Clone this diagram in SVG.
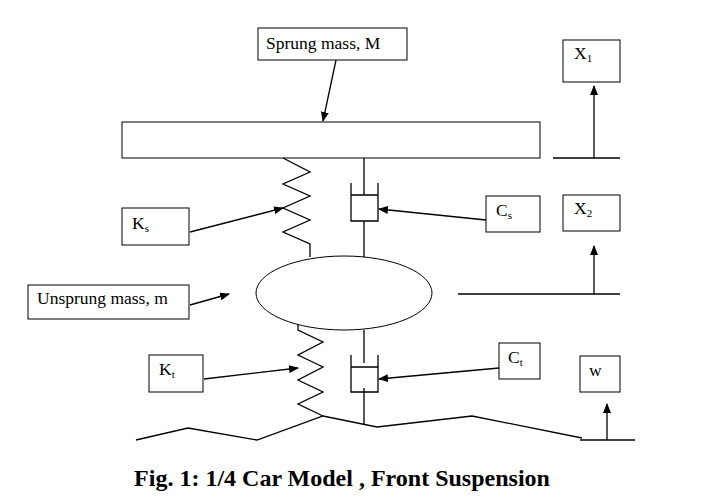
<svg xmlns="http://www.w3.org/2000/svg" width="704" height="503" viewBox="0 0 704 503">
<style>
.s{fill:none;stroke:#000;stroke-width:1.3}
.b{fill:#fff;stroke:#000;stroke-width:1}
.t{font-family:"Liberation Serif",serif;font-size:17.5px}
.sub{font-size:11px}
</style>
<defs><marker id="a" markerWidth="10" markerHeight="8" refX="9" refY="4" orient="auto" markerUnits="userSpaceOnUse"><path d="M0,0L10,4L0,8z"/></marker></defs>
<rect width="704" height="503" fill="#fff"/>
<g id="sprung"><rect class="b" x="122" y="122" width="418" height="36"/></g>
<g id="unsprung"><ellipse class="b" cx="344" cy="293" rx="88" ry="37"/></g>
<g id="springs">
<polyline class="s" points="283,158 310,172 283,184 310,196 283,208 310,220 283,232 310,244 310,257"/>
<polyline class="s" points="298,325 298,330 323,342 298,355 323,367 298,380 323,392 298,404 323,416"/>
</g>
<g id="dampers">
<path class="s" d="M364,158V195M351,183V221H378V183M351,195H378M364,221V257"/>
<path class="s" d="M364,330V363M351,355V392H378V355M351,367H378M364,388V425"/>
</g>
<g id="ground"><polyline class="s" points="136,440 188,428 257,440 323,416 377,427 472,416 582,438"/></g>
<g id="labels">
<g id="n-sprung"><rect class="b" x="258" y="28" width="149" height="32"/><text class="t" x="266" y="49">Sprung mass, M</text></g>
<g id="n-ks"><rect class="b" x="122" y="208" width="67" height="37"/><text class="t" x="132" y="229">K<tspan class="sub" dy="3">s</tspan></text></g>
<g id="n-un"><rect class="b" x="28" y="285" width="161" height="34"/><text class="t" x="37" y="304">Unsprung mass, m</text></g>
<g id="n-kt"><rect class="b" x="149" y="355" width="54" height="37"/><text class="t" x="159" y="375">K<tspan class="sub" dy="3">t</tspan></text></g>
<g id="n-cs"><rect class="b" x="486" y="196" width="54" height="36"/><text class="t" x="496" y="216">C<tspan class="sub" dy="3">s</tspan></text></g>
<g id="n-ct"><rect class="b" x="499" y="343" width="41" height="36"/><text class="t" x="508" y="363">C<tspan class="sub" dy="3">t</tspan></text></g>
<g id="n-x1"><rect class="b" x="563" y="40" width="57" height="42"/><text class="t" x="574" y="59">X<tspan class="sub" dy="3">1</tspan></text></g>
<g id="n-x2"><rect class="b" x="563" y="195" width="57" height="36"/><text class="t" x="574" y="214">X<tspan class="sub" dy="3">2</tspan></text></g>
<g id="n-w"><rect class="b" x="580" y="356" width="40" height="36"/><text class="t" x="589" y="376">w</text></g>
</g>
<g id="connectors">
<line class="s" x1="336" y1="60" x2="323" y2="121" marker-end="url(#a)"/>
<line class="s" x1="190" y1="232" x2="283" y2="208" marker-end="url(#a)"/>
<line class="s" x1="486" y1="220" x2="379" y2="209" marker-end="url(#a)"/>
<line class="s" x1="190" y1="305" x2="229" y2="294" marker-end="url(#a)"/>
<line class="s" x1="204" y1="379" x2="298" y2="368" marker-end="url(#a)"/>
<line class="s" x1="499" y1="368" x2="379" y2="379" marker-end="url(#a)"/>
<line class="s" x1="553" y1="158" x2="620" y2="158"/>
<line class="s" x1="594" y1="158" x2="594" y2="86" marker-end="url(#a)"/>
<line class="s" x1="458" y1="294" x2="620" y2="294"/>
<line class="s" x1="594" y1="294" x2="594" y2="246" marker-end="url(#a)"/>
<line class="s" x1="580" y1="440" x2="635" y2="440"/>
<line class="s" x1="607" y1="440" x2="607" y2="404" marker-end="url(#a)"/>
</g>
<text x="342" y="486" text-anchor="middle" style="font-family:'Liberation Serif',serif;font-size:24px;font-weight:bold">Fig. 1: 1/4 Car Model , Front Suspension</text>
</svg>
